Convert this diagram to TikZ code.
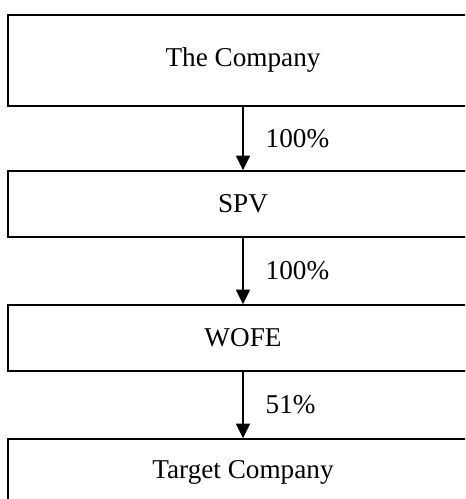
\documentclass[tikz,border=0pt]{standalone}
\usepackage{fontspec}
\setmainfont{Liberation Serif}
\usepackage{tikz}
\usetikzlibrary{arrows.meta}

\tikzset{
  entity/.style={draw, line width=1.1pt, inner sep=0pt, minimum width=352.5pt, font=\fontsize{20.4}{24}\selectfont},
  share/.style={line width=1.1pt, -{Triangle[length=11pt, width=10.5pt]}},
  stake/.style={midway, anchor=west, inner sep=0pt, xshift=16.5pt, font=\fontsize{20.4}{24}\selectfont}
}

\begin{document}
\begin{tikzpicture}[x=0.75pt,y=0.75pt,yscale=-1,xscale=1]
%set diagram area, boxes run past the right side
\useasboundingbox (0,0) rectangle (465,499);
\clip (0,0) rectangle (465,499);

%Shape: Rectangle [id:company]
\node [entity, minimum height=68.25pt] (company) at (243,60.5) {The Company};
%Shape: Rectangle [id:spv]
\node [entity, minimum height=49.5pt] (spv) at (243,204) {SPV};
%Shape: Rectangle [id:wofe]
\node [entity, minimum height=49.5pt] (wofe) at (243,338) {WOFE};
%Shape: Rectangle [id:target]
\node [entity, minimum height=49.5pt] (target) at (243,472) {Target Company};

%Straight Lines with ownership share
\draw [share] (company.south) -- (spv.north) node [stake] {100\%};
\draw [share] (spv.south) -- (wofe.north) node [stake] {100\%};
\draw [share] (wofe.south) -- (target.north) node [stake] {51\%};
\end{tikzpicture}
\end{document}
